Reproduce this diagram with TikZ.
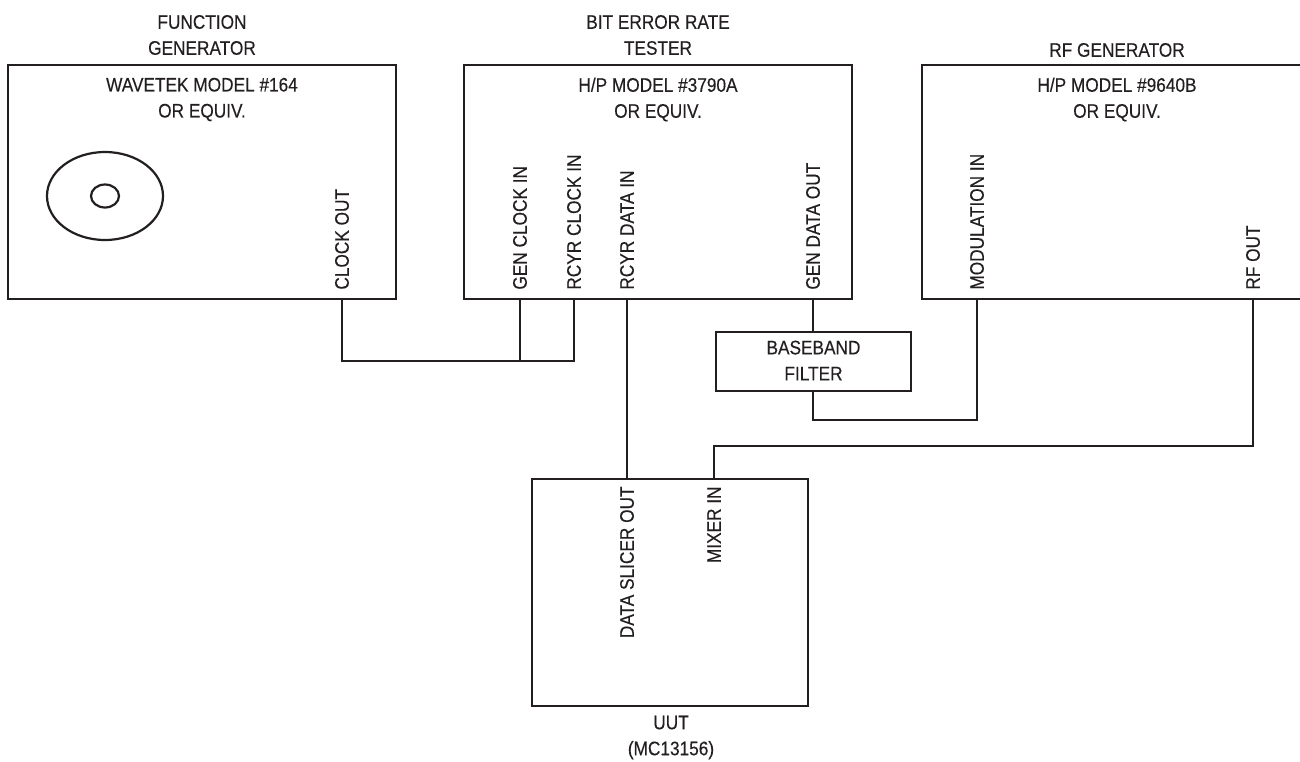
\documentclass[tikz,border=0pt]{standalone}
\usepackage{fontspec}
\setmainfont{Liberation Sans}[FakeStretch=0.88,FakeBold=0.3]
\usetikzlibrary{shapes.geometric,calc}
\definecolor{ink}{RGB}{35,31,32}
\begin{document}
\begin{tikzpicture}[x=0.5pt,y=-0.5pt,
  every node/.style={text=ink, font=\fontsize{9.8}{13}\selectfont},
  box/.style={draw=ink, line width=1.2pt, rectangle, inner sep=0pt},
  lbl/.style={align=center, inner sep=0pt},
  portup/.style={rotate=90, anchor=west, inner sep=0pt},
  portdown/.style={rotate=90, anchor=east, inner sep=0pt},
  wire/.style={draw=ink, line width=1.1pt}]
\clip (0,0) rectangle (1300,761);
% boxes
\node[box, minimum width=194pt, minimum height=117pt] (fg) at (202,182) {};
\node[box, minimum width=194pt, minimum height=117pt] (bert) at (658,182) {};
\node[box, minimum width=195pt, minimum height=117pt] (rf) at (1117,182) {};
\node[box, minimum width=97.5pt, minimum height=29.5pt] (bb) at (813.5,361.5) {};
\node[box, minimum width=138pt, minimum height=113.5pt] (uut) at (670,592.5) {};
% titles
\node[lbl] (fgt) at (202,35) {FUNCTION\\GENERATOR};
\node[lbl] (fgm) at (202,99.5) {WAVETEK MODEL \#164\\OR EQUIV.};
\node[lbl] (bertt) at (658,35) {BIT ERROR RATE\\TESTER};
\node[lbl] (bertm) at (658,99.5) {H/P MODEL \#3790A\\OR EQUIV.};
\node[lbl] (rft) at (1117,50) {RF GENERATOR};
\node[lbl] (rfm) at (1117,99.5) {H/P MODEL \#9640B\\OR EQUIV.};
\node[lbl] (bbt) at (813.5,360.5) {BASEBAND\\FILTER};
\node[lbl] (uutt) at (671,737.5) {UUT\\(MC13156)};
% knob
\node[draw=ink, line width=1.1pt, ellipse, minimum width=58pt, minimum height=44pt, inner sep=0pt] (knob) at (105,196) {};
\node[draw=ink, line width=1.1pt, ellipse, minimum width=14pt, minimum height=11.5pt, inner sep=0pt] (knobc) at (105,196) {};
% port labels
\node[portup] (co) at (342,290) {CLOCK OUT};
\node[portup] (gck) at (520,290) {GEN CLOCK IN};
\node[portup] (rck) at (574,290) {RCYR CLOCK IN};
\node[portup] (rdi) at (627,290) {RCYR DATA IN};
\node[portup] (gdo) at (813,290) {GEN DATA OUT};
\node[portup] (mod) at (977,290) {MODULATION IN};
\node[portup] (rfo) at (1253,290) {RF OUT};
\node[portdown] (dso) at (627,486) {DATA SLICER OUT};
\node[portdown] (mix) at (714,486) {MIXER IN};
% wires
\coordinate (cb) at (342,361);
\draw[wire] (co |- fg.south) -- (cb) -| (rck |- bert.south);
\draw[wire] (gck |- bert.south) -- (gck |- cb);
\draw[wire] (rdi |- bert.south) -- (dso |- uut.north);
\draw[wire] (gdo |- bert.south) -- (gdo |- bb.north);
\draw[wire] (gdo |- bb.south) -- ++(0,28) -| (mod |- rf.south);
\draw[wire] (rfo |- rf.south) -- ++(0,146) -| (mix |- uut.north);
\end{tikzpicture}
\end{document}
